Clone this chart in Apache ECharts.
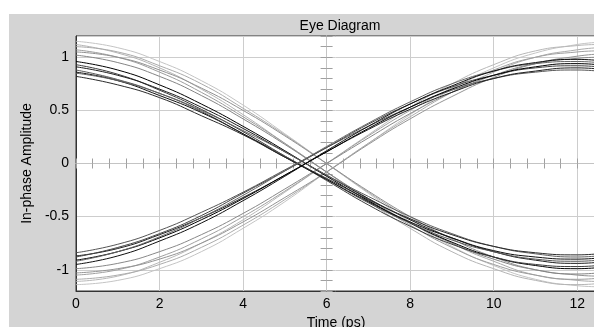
<!DOCTYPE html>
<html>
<head>
<meta charset="utf-8">
<script src="https://cdn.jsdelivr.net/npm/echarts@6/dist/echarts.min.js"></script>
<style>
  html, body { margin: 0; padding: 0; background: #fff; }
  #chart { width: 594px; height: 327px; }
</style>
</head>
<body>
<div id="chart"></div>
<script>
// sample times (ps)
const timePs = [0, 1, 2, 3, 4, 5, 6, 7, 8, 9, 10, 11, 12, 12.5];

// falling traces, light (late crossing, large swing)
const fallL1 = [1.15, 1.09, 0.96, 0.78, 0.55, 0.28, 0.00, -0.28, -0.55, -0.78, -0.96, -1.09, -1.15, -1.16];
const fallL2 = [1.12, 1.04, 0.90, 0.70, 0.46, 0.19, -0.08, -0.36, -0.61, -0.83, -0.99, -1.10, -1.14, -1.13];
const fallL3 = [1.10, 1.05, 0.92, 0.75, 0.52, 0.27, 0.00, -0.27, -0.52, -0.75, -0.92, -1.05, -1.10, -1.11];
const fallL4 = [1.07, 1.00, 0.86, 0.67, 0.44, 0.19, -0.08, -0.34, -0.58, -0.79, -0.95, -1.05, -1.09, -1.08];
const fallL5 = [1.05, 1.00, 0.88, 0.71, 0.50, 0.26, 0.00, -0.26, -0.50, -0.71, -0.88, -1.00, -1.05, -1.06];
const fallL6 = [1.02, 0.95, 0.82, 0.64, 0.42, 0.18, -0.08, -0.33, -0.56, -0.75, -0.90, -1.00, -1.04, -1.03];

// rising traces, light
const riseL1 = [-1.14, -1.10, -0.99, -0.83, -0.61, -0.36, -0.08, 0.19, 0.46, 0.70, 0.90, 1.04, 1.12, 1.14];
const riseL2 = [-1.11, -1.06, -0.93, -0.75, -0.53, -0.27, 0.00, 0.27, 0.53, 0.75, 0.93, 1.06, 1.11, 1.12];
const riseL3 = [-1.09, -1.05, -0.95, -0.79, -0.58, -0.34, -0.08, 0.19, 0.44, 0.67, 0.86, 1.00, 1.07, 1.09];
const riseL4 = [-1.05, -1.00, -0.88, -0.71, -0.50, -0.26, 0.00, 0.26, 0.50, 0.71, 0.88, 1.00, 1.05, 1.06];
const riseL5 = [-1.03, -0.99, -0.90, -0.75, -0.55, -0.32, -0.08, 0.18, 0.42, 0.63, 0.81, 0.94, 1.01, 1.03];
const riseL6 = [-0.99, -0.94, -0.83, -0.67, -0.47, -0.24, 0.00, 0.24, 0.47, 0.67, 0.83, 0.94, 0.99, 1.00];

// falling traces, dark
const fallD1 = [0.96, 0.88, 0.74, 0.56, 0.35, 0.12, -0.12, -0.35, -0.56, -0.74, -0.88, -0.96, -0.99, -0.98];
const fallD2 = [0.93, 0.84, 0.69, 0.51, 0.30, 0.07, -0.16, -0.39, -0.59, -0.76, -0.88, -0.95, -0.97, -0.96];
const fallD3 = [0.91, 0.83, 0.70, 0.53, 0.33, 0.11, -0.11, -0.33, -0.53, -0.70, -0.83, -0.91, -0.94, -0.93];
const fallD4 = [0.88, 0.79, 0.66, 0.49, 0.28, 0.07, -0.15, -0.37, -0.56, -0.72, -0.83, -0.90, -0.92, -0.91];
const fallD5 = [0.86, 0.78, 0.64, 0.48, 0.28, 0.06, -0.15, -0.36, -0.55, -0.70, -0.82, -0.88, -0.90, -0.89];
const fallD6 = [0.85, 0.78, 0.66, 0.50, 0.31, 0.11, -0.11, -0.31, -0.50, -0.66, -0.78, -0.85, -0.88, -0.87];
const fallD7 = [0.82, 0.74, 0.62, 0.45, 0.27, 0.06, -0.14, -0.34, -0.52, -0.67, -0.78, -0.84, -0.86, -0.85];

// rising traces, dark
const riseD1 = [-0.84, -0.76, -0.63, -0.46, -0.27, -0.06, 0.15, 0.35, 0.53, 0.69, 0.80, 0.86, 0.88, 0.87];
const riseD2 = [-0.87, -0.80, -0.67, -0.51, -0.32, -0.11, 0.11, 0.32, 0.51, 0.67, 0.80, 0.87, 0.90, 0.89];
const riseD3 = [-0.88, -0.79, -0.66, -0.49, -0.28, -0.07, 0.15, 0.37, 0.56, 0.72, 0.83, 0.90, 0.92, 0.91];
const riseD4 = [-0.91, -0.83, -0.70, -0.53, -0.33, -0.11, 0.11, 0.33, 0.53, 0.70, 0.83, 0.91, 0.94, 0.93];
const riseD5 = [-0.92, -0.83, -0.69, -0.51, -0.30, -0.07, 0.16, 0.38, 0.58, 0.75, 0.87, 0.94, 0.96, 0.95];
const riseD6 = [-0.95, -0.87, -0.73, -0.56, -0.35, -0.12, 0.12, 0.35, 0.56, 0.73, 0.87, 0.95, 0.98, 0.97];

// light ones first so the dark bundle sits on top
const traces = [
  fallL1, fallL2, fallL3, fallL4, fallL5, fallL6,
  riseL1, riseL2, riseL3, riseL4, riseL5, riseL6,
  fallD1, fallD2, fallD3, fallD4, fallD5, fallD6, fallD7,
  riseD1, riseD2, riseD3, riseD4, riseD5, riseD6
];
const traceColors = [
  '#c4c4c4', '#b4b4b4', '#aaaaaa', '#9c9c9c', '#909090', '#848484',
  '#c4c4c4', '#b8b8b8', '#acacac', '#a0a0a0', '#949494', '#888888',
  '#000000', '#3c3c3c', '#1e1e1e', '#555555', '#101010', '#606060', '#2a2a2a',
  '#555555', '#202020', '#444444', '#000000', '#666666', '#101010'
];

const font = 'Liberation Sans, Arial, sans-serif';
const chart = echarts.init(document.getElementById('chart'));

function onStep(v, step) {
  return Math.abs(v / step - Math.round(v / step)) < 1e-6;
}

// tick axis helper for the crosshair through the middle of the plot
function tickAxis(extra) {
  return Object.assign({
    type: 'value',
    axisLabel: { show: false },
    splitLine: { show: false },
    axisTick: { length: 5, lineStyle: { color: '#a0a0a0' } }
  }, extra);
}

const option = {
  animation: false,
  backgroundColor: '#d4d4d4',
  textStyle: { fontFamily: font },
  title: {
    text: 'Eye Diagram',
    left: 335,
    top: 14,
    textAlign: 'center',
    textStyle: { fontSize: 14, fontWeight: 'normal', color: '#000', fontFamily: font }
  },
  graphic: [
    { type: 'rect', silent: true, shape: { x: 0, y: 0, width: 594, height: 14 }, style: { fill: '#fff' } },
    { type: 'rect', silent: true, shape: { x: 0, y: 0, width: 9, height: 327 }, style: { fill: '#fff' } }
  ],
  grid: {
    left: 76, top: 36, right: -2, bottom: 36,
    containLabel: false,
    outerBoundsMode: 'none',
    show: true, backgroundColor: '#fff', borderColor: '#333', borderWidth: 1
  },
  xAxis: [
    {
      type: 'value', min: 0, max: 12.45, interval: 2, position: 'bottom',
      axisLine: { onZero: false, lineStyle: { color: '#333' } },
      axisTick: { show: false },
      axisLabel: {
        color: '#000', fontSize: 14, margin: 6,
        formatter: v => (onStep(v, 2) ? String(v) : '')
      },
      splitLine: { lineStyle: { color: '#cdcdcd' } },
      name: 'Time (ps)', nameLocation: 'middle', nameGap: 21,
      nameTextStyle: { color: '#000', fontSize: 14, fontFamily: font }
    },
    tickAxis({ min: 0, max: 12.45, interval: 0.4, position: 'bottom',
      axisLine: { onZero: true, onZeroAxisIndex: 0, lineStyle: { color: '#c4c4c4' } } }),
    tickAxis({ min: 0, max: 12.45, interval: 0.4, position: 'top',
      axisLine: { onZero: true, onZeroAxisIndex: 0, lineStyle: { color: '#c4c4c4' } } }),
    // hidden helper whose zero sits at t = 6
    { type: 'value', min: -6, max: 6.45, show: false }
  ],
  yAxis: [
    {
      type: 'value', min: -1.2, max: 1.2, splitNumber: 5, position: 'left',
      axisLine: { show: true, onZero: false, lineStyle: { color: '#333' } },
      axisTick: { show: false },
      axisLabel: {
        color: '#000', fontSize: 14, margin: 7,
        formatter: v => (onStep(v, 0.5) ? String(Math.round(v * 10) / 10) : '')
      },
      splitLine: { lineStyle: { color: '#cdcdcd' } },
      name: 'In-phase Amplitude', nameLocation: 'middle', nameGap: 41, nameRotate: 90,
      nameTextStyle: { color: '#000', fontSize: 14, fontFamily: font }
    },
    tickAxis({ min: -1.2, max: 1.2, interval: 0.1, position: 'left',
      axisTick: { length: 6, lineStyle: { color: '#a0a0a0' } },
      axisLine: { onZero: true, onZeroAxisIndex: 3, lineStyle: { color: '#c4c4c4' } } }),
    tickAxis({ min: -1.2, max: 1.2, interval: 0.1, position: 'right',
      axisTick: { length: 6, lineStyle: { color: '#a0a0a0' } },
      axisLine: { onZero: true, onZeroAxisIndex: 3, lineStyle: { color: '#c4c4c4' } } })
  ],
  series: traces.map((trace, i) => ({
    type: 'line',
    xAxisIndex: 0,
    yAxisIndex: 0,
    smooth: true,
    symbol: 'none',
    silent: true,
    lineStyle: { width: 1, color: traceColors[i] },
    data: timePs.map((t, k) => [t, trace[k]])
  }))
};

chart.setOption(option);
</script>
</body>
</html>
